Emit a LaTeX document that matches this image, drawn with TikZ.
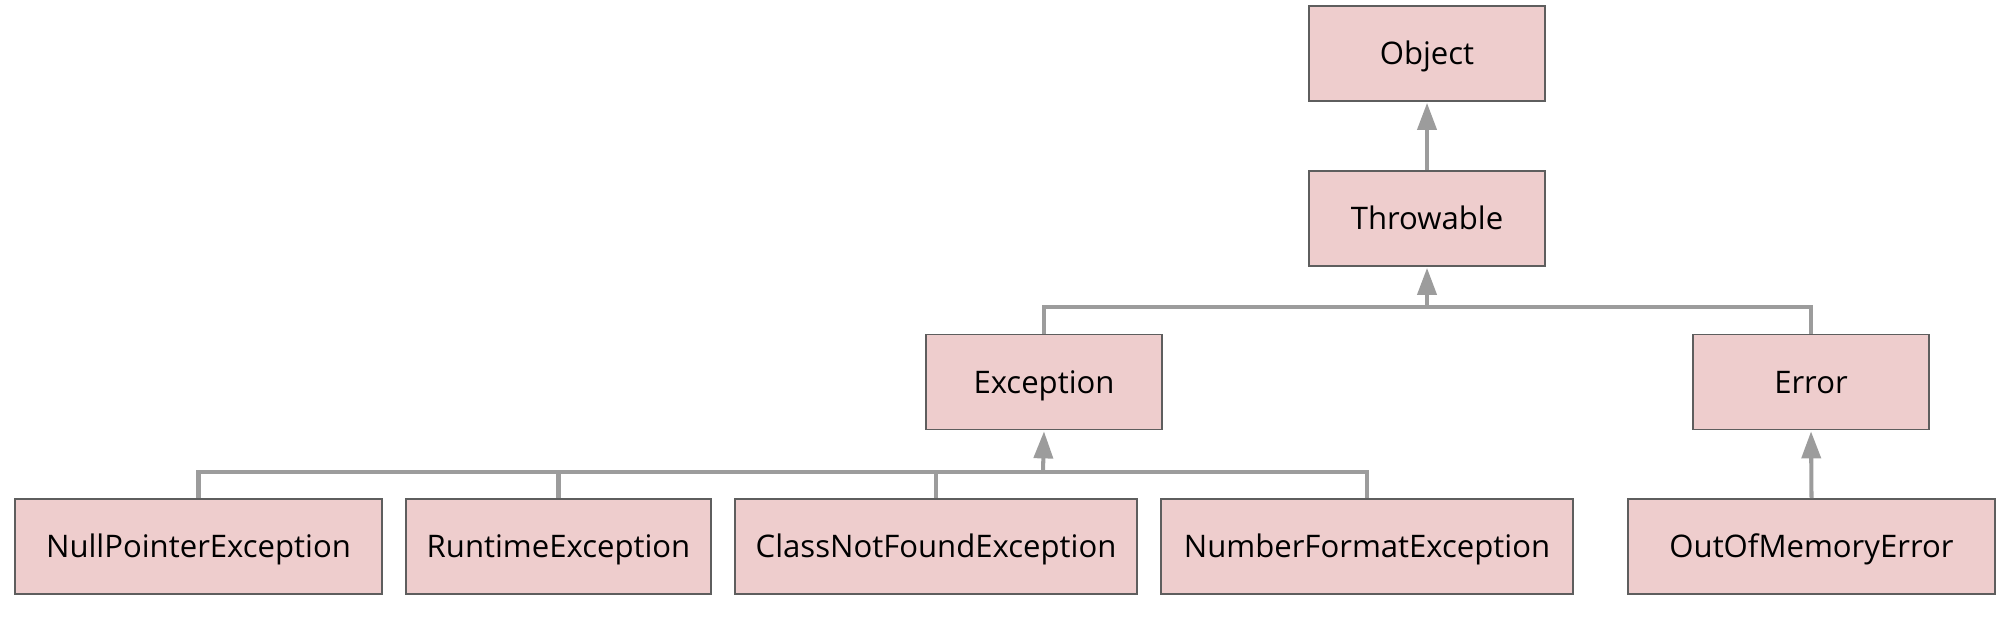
\documentclass[tikz,border=0pt]{standalone}
\usepackage{fontspec}
\setmainfont{Open Sans}
\usetikzlibrary{arrows.meta}
\definecolor{boxfill}{HTML}{EECDCD}
\definecolor{boxline}{HTML}{5E5E5E}
\definecolor{conncol}{HTML}{9C9C9C}
\begin{document}
\begin{tikzpicture}[x=0.02cm,y=-0.02cm,
  cls/.style={draw=boxline, fill=boxfill, line width=1.1pt, inner sep=0pt,
    minimum height=1.9cm, text height=12.6pt, text depth=0pt,
    font=\fontsize{17.7}{21}\selectfont},
  tree/.style={draw=conncol, line width=2.3pt},
  inh/.style={tree, -{Triangle[width=10.8pt,length=15.4pt]}, shorten >=0.5pt}
]
\useasboundingbox (0,0) rectangle (2010,616);
\node[cls, minimum width=4.72cm] (object)    at (1427,53.5)  {Object};
\node[cls, minimum width=4.72cm] (throwable) at (1427,218.5) {Throwable};
\node[cls, minimum width=4.72cm] (exception) at (1044,382)   {Exception};
\node[cls, minimum width=4.72cm] (error)     at (1811,382)   {Error};
\node[cls, minimum width=7.34cm] (nullp)     at (198.5,546.5) {NullPointerException};
\node[cls, minimum width=6.10cm] (runtime)   at (558.5,546.5) {RuntimeException};
\node[cls, minimum width=8.04cm] (classnf)   at (936,546.5)   {ClassNotFoundException};
\node[cls, minimum width=8.24cm] (numf)      at (1367,546.5)  {NumberFormatException};
\node[cls, minimum width=7.34cm] (oom)       at (1811.5,546.5) {OutOfMemoryError};

\coordinate (j1) at (1427,307);
\coordinate (j2) at (1043,472);

\draw[inh] (throwable.north) -- (object.south);
\draw[tree] (exception.north) |- (j1) -| (error.north);
\draw[inh] (j1) -- (throwable.south);

\draw[tree] (nullp.north) |- (j2) -| (numf.north);
\draw[tree] (runtime.north) -- (runtime.north |- j2);
\draw[tree] (classnf.north) -- (classnf.north |- j2);
\draw[inh] (j2) -- (exception.south);

\draw[inh] (oom.north) -- (error.south);
\end{tikzpicture}
\end{document}
